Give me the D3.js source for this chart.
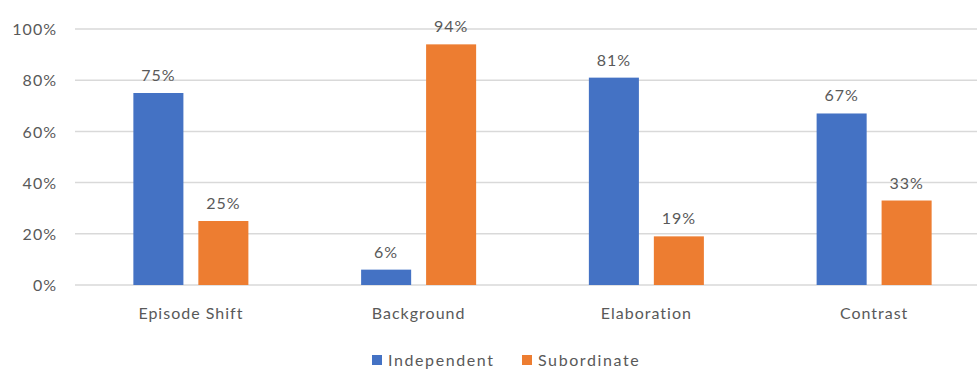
<!DOCTYPE html>
<html>
<head>
<meta charset="utf-8">
<script src="https://cdn.jsdelivr.net/npm/d3@7"></script>
<style>
  html, body { margin: 0; padding: 0; background: #fff; }
  svg { display: block; font-family: Lato, "Open Sans", sans-serif; }
</style>
</head>
<body>
<svg id="chart" width="977" height="369"></svg>
<script>
// Share of clause types per discourse relation
const categories = ["Episode Shift", "Background", "Elaboration", "Contrast"];
const seriesNames = ["Independent", "Subordinate"];
const independent = [75, 6, 81, 67];
const subordinate = [25, 94, 19, 33];
const yTicks = [0, 20, 40, 60, 80, 100];
const colors = ["#4472C4", "#ED7D31"];

const svg = d3.select("#chart");
const textColor = "#595959";
const fontSize = "16px";

const x0 = d3.scaleBand()
  .domain(categories)
  .range([77, 988])
  .paddingInner(0.495)
  .paddingOuter(0.2475);

const x1 = d3.scaleBand()
  .domain(seriesNames)
  .range([0, x0.bandwidth()])
  .paddingInner(0.23);

const y = d3.scaleLinear().domain([0, 100]).range([285, 29]);

// gridlines
svg.append("g")
  .selectAll("line")
  .data(yTicks)
  .join("line")
  .attr("x1", 75)
  .attr("x2", 977)
  .attr("y1", d => y(d))
  .attr("y2", d => y(d))
  .attr("stroke", "#D9D9D9")
  .attr("stroke-width", 1.5);

// y axis labels
const yAxis = d3.axisLeft(y).tickValues(yTicks).tickFormat(d => d + "%").tickSize(0).tickPadding(0);
const yg = svg.append("g").attr("transform", "translate(57,0)").call(yAxis);
yg.select(".domain").remove();
yg.selectAll("text")
  .attr("fill", textColor)
  .style("font-size", fontSize)
  .style("letter-spacing", "1px")
  .style("font-family", "Lato, 'Open Sans', sans-serif")
  .attr("dy", "0.35em");

// bars
const rows = categories.map((c, i) => ({
  category: c,
  values: [
    { series: seriesNames[0], value: independent[i] },
    { series: seriesNames[1], value: subordinate[i] }
  ]
}));

const groups = svg.append("g")
  .selectAll("g")
  .data(rows)
  .join("g")
  .attr("transform", d => `translate(${x0(d.category)},0)`);

groups.selectAll("rect")
  .data(d => d.values)
  .join("rect")
  .attr("x", d => x1(d.series))
  .attr("width", x1.bandwidth())
  .attr("y", d => y(d.value))
  .attr("height", d => y(0) - y(d.value))
  .attr("fill", (d, i) => colors[i]);

groups.selectAll("text")
  .data(d => d.values)
  .join("text")
  .attr("x", d => x1(d.series) + x1.bandwidth() / 2)
  .attr("y", d => y(d.value) - 12)
  .attr("text-anchor", "middle")
  .attr("fill", textColor)
  .style("font-size", fontSize)
  .style("letter-spacing", "1px")
  .text(d => d.value + "%");

// category labels
const xAxis = d3.axisBottom(x0).tickSize(0).tickPadding(0);
const xg = svg.append("g").attr("transform", "translate(0,319)").call(xAxis);
xg.select(".domain").remove();
xg.selectAll("text")
  .attr("dy", 0)
  .attr("fill", textColor)
  .style("font-size", fontSize)
  .style("font-family", "Lato, 'Open Sans', sans-serif")
  .style("letter-spacing", "1px");

// legend
const legendX = [372, 522];
const legend = svg.append("g")
  .selectAll("g")
  .data(seriesNames)
  .join("g")
  .attr("transform", (d, i) => `translate(${legendX[i]},355)`);

legend.append("rect")
  .attr("width", 10)
  .attr("height", 10)
  .attr("fill", (d, i) => colors[i]);

legend.append("text")
  .attr("x", 16)
  .attr("y", 11)
  .attr("fill", textColor)
  .style("font-size", fontSize)
  .style("letter-spacing", "1.6px")
  .text(d => d);
</script>
</body>
</html>
